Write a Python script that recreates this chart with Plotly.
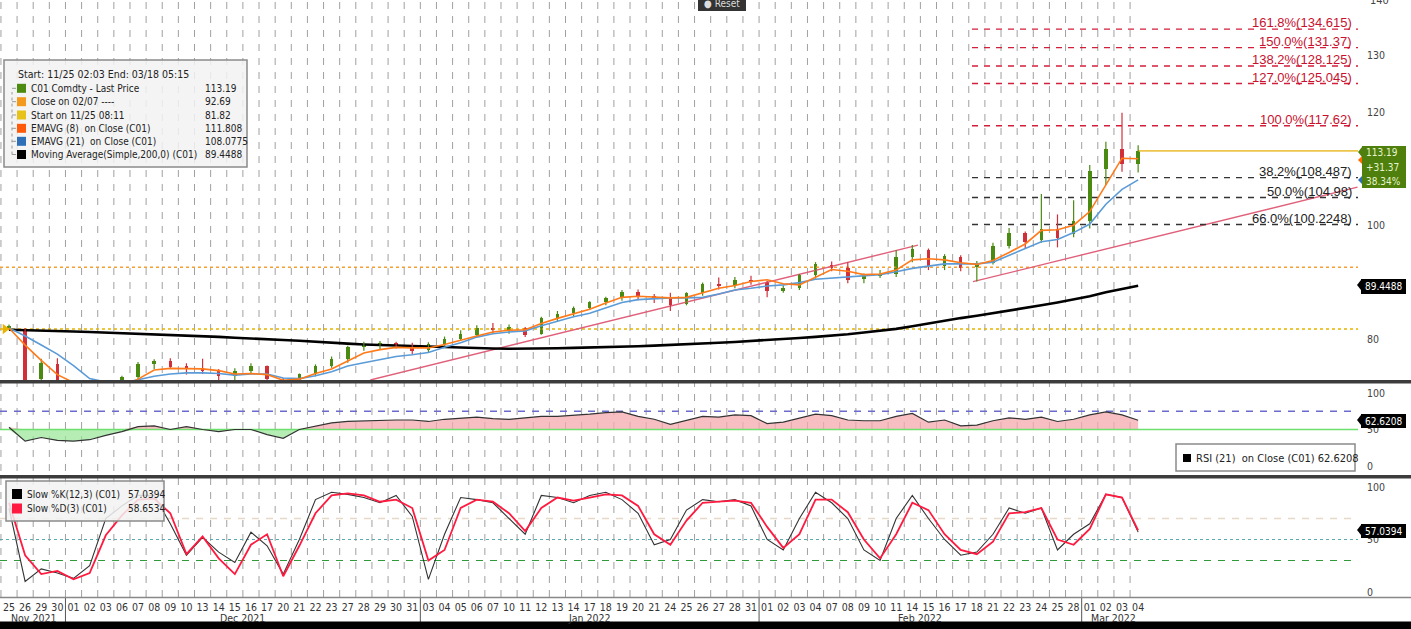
import plotly.graph_objects as go

# ---------------- data ----------------
dates = ["11-25","11-26","11-29","11-30","12-01","12-02","12-03","12-06","12-07","12-08",
         "12-09","12-10","12-13","12-14","12-15","12-16","12-17","12-20","12-21","12-22",
         "12-23","12-27","12-28","12-29","12-30","12-31","01-03","01-04","01-05","01-06",
         "01-07","01-10","01-11","01-12","01-13","01-14","01-17","01-18","01-19","01-20",
         "01-21","01-24","01-25","01-26","01-27","01-28","01-31","02-01","02-02","02-03",
         "02-04","02-07","02-08","02-09","02-10","02-11","02-14","02-15","02-16","02-17",
         "02-18","02-21","02-22","02-23","02-24","02-25","02-28","03-01","03-02","03-03","03-04"]
month_names = {"11": "Nov 2021", "12": "Dec 2021", "01": "Jan 2022", "02": "Feb 2022", "03": "Mar 2022"}

open_ = [81.9,81.8,73.0,75.6,70.6,69.2,70.0,70.3,73.3,75.6, 76.2,75.2,75.0,74.4,73.5,74.5,75.3,72.8,71.6,73.9,
         75.3,76.5,78.6,79.1,79.3,79.0,78.2,79.2,80.1,80.7, 82.0,81.6,82.0,81.0,83.8,84.6,85.6,86.5,87.3,88.4,
         87.6,87.3,86.2,88.1,89.8,89.5,90.5,90.1,88.6,89.1, 91.3,93.1,92.6,90.6,91.3,91.6,94.5,95.8,92.9,94.5,
         92.8,93.4,96.5,98.8,97.5,99.5,98.5,100.9,110.0,113.5,110.8]
high = [82.6,82.0,76.6,76.7,72.5,70.8,71.5,73.6,76.0,76.5, 76.7,75.8,76.6,74.8,74.9,75.8,75.4,73.2,74.0,75.6,
        77.0,78.9,79.6,79.7,79.6,79.4,79.5,80.5,81.6,82.5, 82.9,82.6,82.2,84.0,85.0,85.8,86.7,87.5,88.7,88.8,
        88.0,88.2,88.3,90.0,90.9,91.0,91.2,90.3,89.5,91.5, 93.6,93.7,93.6,91.6,92.2,95.7,96.6,96.0,95.0,94.8,
        93.8,97.0,99.6,99.0,105.6,102.0,104.5,110.7,114.8,119.9,114.2]
low = [81.6,72.5,72.8,70.0,68.8,66.5,68.5,70.1,73.0,74.8, 74.8,73.8,73.9,72.4,72.6,73.9,72.3,69.8,71.3,73.5,
       75.0,75.9,78.0,78.3,78.4,77.4,77.6,78.8,79.8,80.4, 81.1,81.0,80.4,80.8,83.2,83.9,85.2,86.0,86.8,86.9,
       86.4,85.0,86.0,87.7,88.8,89.0,89.6,87.4,88.2,88.7, 90.7,92.0,89.9,89.9,90.8,91.0,93.6,92.2,92.2,92.0,
       90.2,93.2,96.0,96.0,97.0,96.2,98.0,99.5,107.2,109.5,109.4]
close = [82.3,72.9,75.8,70.6,69.2,70.0,69.9,73.3,75.6,76.2, 75.2,75.0,74.4,73.5,74.5,75.3,73.1,71.6,73.9,75.3,
         76.6,78.6,79.1,79.3,79.0,77.9,79.2,80.1,80.9,82.0, 81.8,82.2,80.8,83.8,84.5,85.5,86.5,87.2,88.4,87.6,
         87.2,86.0,88.1,89.8,89.5,90.5,90.1,88.5,89.1,91.3, 93.2,92.6,90.5,91.3,91.6,94.5,95.9,92.9,94.6,92.6,
         93.3,96.5,98.8,97.2,99.5,97.8,100.9,109.6,113.5,110.8,113.19]
ema8 = [82.0,79.0,76.3,73.8,72.4,71.5,71.2,71.6,73.0,74.6, 74.9,74.8,74.8,74.5,73.9,74.0,73.8,72.8,73.0,74.0,
        74.8,76.2,77.6,78.2,78.6,78.5,78.5,79.1,79.9,80.6, 81.3,81.6,81.7,82.8,83.7,84.5,85.3,86.4,87.4,87.6,
        87.5,87.3,87.4,88.2,89.0,89.5,90.2,90.5,89.8,89.6, 90.9,92.3,92.0,91.4,91.5,92.2,94.0,94.2,94.0,93.5,
        93.2,93.9,95.3,96.8,99.2,99.3,100.1,102.5,107.2,111.9,111.808]
ema21 = [82.0,80.6,79.0,77.4,75.4,73.1,72.5,72.3,72.9,73.5, 73.9,74.1,74.1,74.0,73.7,73.9,73.9,73.2,73.1,73.6,
         74.3,75.3,75.9,76.5,77.0,77.3,77.7,78.6,79.4,80.4, 81.0,81.3,81.5,82.4,83.2,84.0,84.6,85.6,86.5,87.0,
         87.2,87.3,87.3,87.4,88.0,88.7,89.0,89.4,89.6,90.0, 90.6,90.8,91.0,91.2,91.4,91.9,92.5,92.9,93.3,93.3,
         93.3,93.6,94.8,96.1,97.2,97.6,98.8,100.3,103.8,106.4,108.0775]
sma200 = [81.7,81.65,81.55,81.45,81.4,81.3,81.2,81.15,81.05,80.95, 80.85,80.7,80.6,80.45,80.3,80.2,80.05,79.9,79.75,79.55,
          79.4,79.25,79.1,79.0,78.9,78.8,78.75,78.7,78.6,78.5, 78.4,78.35,78.35,78.4,78.45,78.5,78.55,78.6,78.7,78.8,
          78.9,79.0,79.1,79.25,79.4,79.55,79.7,79.85,80.05,80.25, 80.45,80.65,80.9,81.2,81.5,81.85,82.3,82.8,83.3,83.75,
          84.15,84.6,85.0,85.5,86.0,86.5,87.0,87.6,88.3,88.9,89.4488]
rsi21 = [53,34,39,35,34,36,42,47,54,55, 50,54,50,47,50,50,43,38,50,55,
         59,61,62,62,63,63,61,64,66,67, 65,64,66,68,68,69,71,73,74,68,
         64,57,62,68,67,70,69,58,60,66, 71,69,63,62,62,68,72,60,63,55,
         56,62,66,64,67,61,64,70,74,70,62.6208]
slow_k = [80,10,22,18,13,25,70,82,92,92, 65,35,52,38,28,57,44,17,50,88,
          95,93,90,85,92,72,12,55,90,88, 85,70,55,92,90,85,92,95,88,75,
          45,50,78,88,86,88,82,50,40,70, 95,85,70,40,30,70,92,70,50,35,
          38,55,80,75,80,40,55,65,93,90,57.0394]
slow_d = [85,35,17,20,12,18,54,73,88,89, 75,36,53,32,17,45,55,15,44,75,
          92,94,92,86,88,80,30,40,80,88, 86,75,58,80,90,87,90,93,92,82,
          55,45,68,85,86,87,85,62,42,55, 88,88,76,50,32,55,85,78,55,40,
          36,48,75,76,80,50,45,60,93,90,58.6534]

start_price = 81.82
close_0207 = 92.69
last_price = 113.19
fib_values = [134.615, 131.37, 128.125, 125.045, 117.62, 108.487, 104.98, 100.2248]
fib_labels = ["161.8%(134.615)", "150.0%(131.37)", "138.2%(128.125)", "127.0%(125.045)",
              "100.0%(117.62)", "38.2%(108.487)", "50.0%(104.98)", "66.0%(100.2248)"]
fib_start = 59.7
trend1_x = [22.4, 56.35]
trend1_y = [72.85, 96.6]
trend2_x = [59.76, 83.6]
trend2_y = [90.16, 106.8]

# ---------------- layout constants ----------------
W, H = 1411, 629
XLO, XHI = -0.558, 83.63
XD = 1358 / W
GREEN = "#4a8a12"
RED = "#d0303a"
ORANGE = "#ff7a1a"
BLUE = "#5a9bd8"
FONT = "Liberation Sans Narrow, DejaVu Sans Condensed, Liberation Sans, sans-serif"
LFS = 10

def px(xp):
    return xp / W

def py(yp):
    return 1 - yp / H

x = list(range(len(dates)))
day_labels = [d[3:] for d in dates]

fig = go.Figure()

# ---- main panel ----
fig.add_trace(go.Scatter(x=[XLO, XHI], y=[start_price, start_price], mode="lines",
                         line=dict(color="#e8b400", width=1.6, dash="dot"), yaxis="y"))
fig.add_trace(go.Scatter(x=[XLO, XHI], y=[close_0207, close_0207], mode="lines",
                         line=dict(color="#f5a030", width=1.4, dash="dot"), yaxis="y"))
fig.add_trace(go.Scatter(x=trend1_x, y=trend1_y, mode="lines", line=dict(color="#e0607a", width=1.4), yaxis="y"))
fig.add_trace(go.Scatter(x=trend2_x, y=trend2_y, mode="lines", line=dict(color="#e0607a", width=1.4), yaxis="y"))
for v in fib_values:
    col = "#d21f3c" if v > last_price else "#333333"
    fig.add_trace(go.Scatter(x=[fib_start, XHI], y=[v, v], mode="lines",
                             line=dict(color=col, width=1.4, dash="6px,6px"), yaxis="y"))
fig.add_trace(go.Scatter(x=[x[-1], XHI], y=[last_price, last_price], mode="lines",
                         line=dict(color="#ecc64a", width=1.6), yaxis="y"))
fig.add_trace(go.Scatter(x=x, y=sma200, mode="lines", line=dict(color="black", width=2.6), yaxis="y"))

# candles: wicks + bodies
for up, col in [(True, GREEN), (False, RED)]:
    wx, wy = [], []
    for i in x:
        if (close[i] >= open_[i]) == up:
            wx += [i, i, None]
            wy += [low[i], high[i], None]
    fig.add_trace(go.Scatter(x=wx, y=wy, mode="lines", line=dict(color=col, width=1.2), yaxis="y"))
body_base = [min(o, c) for o, c in zip(open_, close)]
body_len = [max(abs(c - o), 0.2) for o, c in zip(open_, close)]
body_col = [GREEN if c >= o else RED for o, c in zip(open_, close)]
fig.add_trace(go.Bar(x=x, base=body_base, y=body_len, width=0.22, marker=dict(color=body_col, line=dict(width=0)),
                     yaxis="y"))

fig.add_trace(go.Scatter(x=x, y=ema21, mode="lines", line=dict(color=BLUE, width=1.6), yaxis="y"))
fig.add_trace(go.Scatter(x=x, y=ema8, mode="lines", line=dict(color=ORANGE, width=1.6), yaxis="y"))
fig.add_trace(go.Scatter(x=[-0.25], y=[start_price], mode="markers", cliponaxis=False,
                         marker=dict(symbol="triangle-right", size=9, color="#e8b400"), yaxis="y"))

# ---- RSI panel ----
rsi_hi = [max(v, 50) for v in rsi21]
rsi_lo = [min(v, 50) for v in rsi21]
fig.add_trace(go.Scatter(x=x, y=[50] * len(x), mode="lines", line=dict(width=0), yaxis="y2"))
fig.add_trace(go.Scatter(x=x, y=rsi_hi, mode="lines", line=dict(width=0), fill="tonexty",
                         fillcolor="rgba(245,170,175,0.75)", yaxis="y2"))
fig.add_trace(go.Scatter(x=x, y=[50] * len(x), mode="lines", line=dict(width=0), yaxis="y2"))
fig.add_trace(go.Scatter(x=x, y=rsi_lo, mode="lines", line=dict(width=0), fill="tonexty",
                         fillcolor="rgba(150,230,150,0.7)", yaxis="y2"))
fig.add_trace(go.Scatter(x=[XLO, XHI], y=[75, 75], mode="lines",
                         line=dict(color="#6a6ad0", width=1.6, dash="7px,7px"), yaxis="y2"))
fig.add_trace(go.Scatter(x=[XLO, XHI], y=[50, 50], mode="lines",
                         line=dict(color="#6ee06e", width=1.6), yaxis="y2"))
fig.add_trace(go.Scatter(x=x, y=rsi21, mode="lines", line=dict(color="#333333", width=1.2), yaxis="y2"))

# ---- Stochastic panel ----
fig.add_trace(go.Scatter(x=[XLO, XHI], y=[70, 70], mode="lines",
                         line=dict(color="#e8d8c8", width=1.3, dash="7px,7px"), yaxis="y3"))
fig.add_trace(go.Scatter(x=[XLO, XHI], y=[50, 50], mode="lines",
                         line=dict(color="#5aaab0", width=1.2, dash="dot"), yaxis="y3"))
fig.add_trace(go.Scatter(x=[XLO, XHI], y=[30, 30], mode="lines",
                         line=dict(color="#2e9a3a", width=1.2, dash="7px,7px"), yaxis="y3"))
fig.add_trace(go.Scatter(x=x, y=slow_k, mode="lines", line=dict(color="#333333", width=1.1), yaxis="y3"))
fig.add_trace(go.Scatter(x=x, y=slow_d, mode="lines", line=dict(color="#ff1a40", width=1.8), yaxis="y3"))

shapes = []
ann = []

def text(xp, yp, t, size=LFS, color="#222", xanchor="left", family=FONT, xref="paper"):
    ann.append(dict(x=xp, y=yp, xref=xref, yref="paper", xanchor=xanchor, yanchor="middle",
                    showarrow=False, text=t, font=dict(family=family, size=size, color=color)))

# vertical dashed day separators
for i in x:
    shapes.append(dict(type="line", xref="x", yref="paper", x0=i - 0.5, x1=i - 0.5,
                       y0=py(597), y1=1, line=dict(color="#a0a0a0", width=1, dash="7px,7px"), layer="below"))
# month boundaries in the label strip + month labels
months = []
for i, d in enumerate(dates):
    m = d[:2]
    if not months or months[-1][0] != m:
        months.append([m, i, i])
    else:
        months[-1][2] = i
for k, (m, a, b) in enumerate(months):
    if k > 0:
        shapes.append(dict(type="line", xref="x", yref="paper", x0=a - 0.5, x1=a - 0.5,
                           y0=py(622), y1=py(598), line=dict(color="#555", width=1)))
    text((a + b) / 2, py(618), month_names[m], size=10.5, color="#333", xanchor="center", xref="x")

# panel separators, bottom bands
shapes.append(dict(type="rect", xref="paper", yref="paper", x0=0, x1=1, y0=py(383.5), y1=py(380),
                   fillcolor="#3c3c3c", line=dict(width=0), layer="above"))
shapes.append(dict(type="rect", xref="paper", yref="paper", x0=0, x1=1, y0=py(478.5), y1=py(475),
                   fillcolor="#3c3c3c", line=dict(width=0), layer="above"))
shapes.append(dict(type="line", xref="paper", yref="paper", x0=0, x1=1, y0=py(597.5), y1=py(597.5),
                   line=dict(color="#888", width=1.5), layer="above"))
shapes.append(dict(type="rect", xref="paper", yref="paper", x0=0, x1=1, y0=0, y1=py(621.5),
                   fillcolor="black", line=dict(width=0), layer="above"))

# fib labels
for v, lab in zip(fib_values, fib_labels):
    col = "#c8102e" if v > last_price else "#222222"
    ann.append(dict(x=83.4, y=v, xref="x", yref="y", text=lab, showarrow=False, xanchor="right",
                    yanchor="bottom", yshift=-3, font=dict(family="Liberation Sans, Arial, sans-serif",
                                                           size=13, color=col)))

# top legend box
shapes.append(dict(type="rect", xref="paper", yref="paper", x0=px(4), x1=px(247), y0=py(167), y1=py(60),
                   fillcolor="rgba(242,242,242,0.85)", line=dict(color="#8a8a8a", width=1.5), layer="above"))
text(px(16), py(74), "Start: 11/25 02:03 End: 03/18 05:15", size=10.5)
leg_rows = [("#4d8a10", "C01 Comdty - Last Price", "113.19"),
            ("#f39a1c", "Close on 02/07 ----", "92.69"),
            ("#e6c21a", "Start on 11/25 08:11", "81.82"),
            ("#ff5a0a", "EMAVG (8)  on Close (C01)", "111.808"),
            ("#2e6fb7", "EMAVG (21)  on Close (C01)", "108.0775"),
            ("#000000", "Moving Average(Simple,200,0) (C01)", "89.4488")]
row_y = [88.3, 101.7, 115, 128.3, 141.3, 154.5]
shapes.append(dict(type="line", xref="paper", yref="paper", x0=px(12), x1=px(12), y0=py(154.5), y1=py(92),
                   line=dict(color="#999", width=1, dash="dot"), layer="above"))
for (c, t, v), yy in zip(leg_rows, row_y):
    shapes.append(dict(type="rect", xref="paper", yref="paper", x0=px(17), x1=px(26), y0=py(yy + 4.5),
                       y1=py(yy - 4.5), fillcolor=c, line=dict(width=0), layer="above"))
    shapes.append(dict(type="line", xref="paper", yref="paper", x0=px(12), x1=px(16), y0=py(yy), y1=py(yy),
                       line=dict(color="#999", width=1), layer="above"))
    text(px(29), py(yy), t)
    text(px(203), py(yy), v)

# RSI legend
shapes.append(dict(type="rect", xref="paper", yref="paper", x0=px(1176), x1=px(1355), y0=py(471), y1=py(444),
                   fillcolor="rgba(255,255,255,0.95)", line=dict(color="#8a8a8a", width=1.5), layer="above"))
shapes.append(dict(type="rect", xref="paper", yref="paper", x0=px(1183), x1=px(1191), y0=py(462), y1=py(454),
                   fillcolor="black", line=dict(width=0), layer="above"))
text(px(1194), py(458), "RSI (21)  on Close (C01) 62.6208", size=11)

# Stoch legend
shapes.append(dict(type="rect", xref="paper", yref="paper", x0=px(6), x1=px(164), y0=py(521), y1=py(481),
                   fillcolor="rgba(242,242,242,0.85)", line=dict(color="#8a8a8a", width=1.5), layer="above"))
for c, t, v, yy in [("black", "Slow %K(12,3) (C01)", "57.0394", 494),
                    ("#ff1a40", "Slow %D(3) (C01)", "58.6534", 508.5)]:
    shapes.append(dict(type="rect", xref="paper", yref="paper", x0=px(12), x1=px(22), y0=py(yy + 5),
                       y1=py(yy - 5), fillcolor=c, line=dict(width=0), layer="above"))
    text(px(25), py(yy), t)
    text(px(126), py(yy), v)

# right-side value boxes
def value_box(x0, x1, y0, y1, color, lines, fcolor="white"):
    shapes.append(dict(type="rect", xref="paper", yref="paper", x0=px(x0), x1=px(x1), y0=py(y1), y1=py(y0),
                       fillcolor=color, line=dict(width=0), layer="above"))
    shapes.append(dict(type="path", xref="paper", yref="paper", layer="above", fillcolor=color,
                       line=dict(width=0),
                       path=f"M {px(x0)} {py(y0 + 1)} L {px(x0 - 4)} {py(y0 + 6)} L {px(x0)} {py(y0 + 11)} Z"))
    n = len(lines)
    for k, t in enumerate(lines):
        yy = y0 + (y1 - y0) * (k + 0.5) / n
        text(px(x0 + 2), py(yy), t, size=10, color=fcolor)

value_box(1362, 1406, 146, 188, "#4f7f0c", ["113.19", "+31.37", "38.34%"], "#e6f5d0")
value_box(1361, 1406, 279, 294, "black", ["89.4488"])
value_box(1361, 1406, 414, 428, "black", ["62.6208"])
value_box(1361, 1406, 524, 538, "black", ["57.0394"])
for yy, c in [(160, "#ff6a00"), (180, "#2e6fb7")]:
    shapes.append(dict(type="path", xref="paper", yref="paper", layer="above", fillcolor=c, line=dict(width=0),
                       path=f"M {px(1362)} {py(yy - 4)} L {px(1358)} {py(yy)} L {px(1362)} {py(yy + 4)} Z"))

# partial 140 label & reset button
text(px(1368), py(0), "140", size=11, color="#444")
shapes.append(dict(type="rect", xref="paper", yref="paper", x0=px(698), x1=px(746), y0=py(11), y1=1,
                   fillcolor="#333", line=dict(width=0), layer="above"))
text(px(722), py(3), "\u25cf Reset", size=10, color="#ddd", xanchor="center")

axis_common = dict(showgrid=False, zeroline=False, showline=False, ticks="", fixedrange=True)
fig.update_layout(
    width=W, height=H, margin=dict(l=0, r=0, t=0, b=0),
    paper_bgcolor="white", plot_bgcolor="rgba(0,0,0,0)",
    showlegend=False, hovermode=False, bargap=0,
    xaxis=dict(domain=[0, XD], range=[XLO, XHI], anchor="y3", tickvals=x, ticktext=day_labels, tickangle=0,
               tickfont=dict(family=FONT, size=10.5, color="#333"), rangeslider=dict(visible=False),
               ticklabelstandoff=2, **axis_common),
    yaxis=dict(domain=[py(380), 1], range=[72.85, 139.75], side="right", anchor="x",
               tickvals=[80, 100, 120, 130], tickfont=dict(family=FONT, size=10.5, color="#444"),
               ticklabelstandoff=8, **axis_common),
    yaxis2=dict(domain=[py(475), py(384)], range=[-12.3, 112.3], side="right", anchor="x",
                tickvals=[0, 50, 100], tickfont=dict(family=FONT, size=10.5, color="#444"),
                ticklabelstandoff=8, **axis_common),
    yaxis3=dict(domain=[py(597), py(478)], range=[-4.8, 108.6], side="right", anchor="x",
                tickvals=[0, 50, 100], tickfont=dict(family=FONT, size=10.5, color="#444"),
                ticklabelstandoff=8, **axis_common),
    shapes=shapes, annotations=ann,
)

fig.write_html("out.html", include_plotlyjs=True, config={"displayModeBar": False},
               post_script="document.body.style.margin='0';")
